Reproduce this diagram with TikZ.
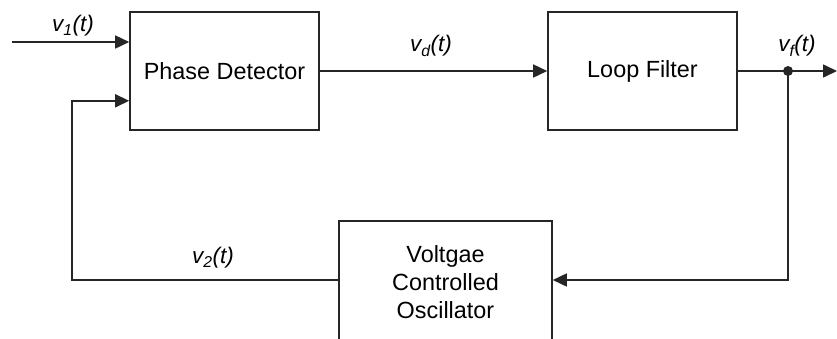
\documentclass[tikz,border=0pt]{standalone}
\usepackage{fontspec}
\setmainfont{Liberation Sans}
\usetikzlibrary{arrows.meta,calc}
\begin{document}
\begin{tikzpicture}[x=1pt,y=-1pt,
  line width=1.6pt,
  blk/.style={draw=black!85, line width=1.6pt, minimum width=189pt, minimum height=118pt, inner sep=0pt, align=center, font=\fontsize{23.4}{28}\selectfont},
  lbl/.style={font=\fontsize{22.5}{26}\selectfont\itshape, inner sep=0pt},
  arr/.style={draw=black!85, -{Triangle[length=14pt,width=13pt]}},
  ln/.style={draw=black!85}]
\useasboundingbox (0,0) rectangle (837,338);
\clip (0,0) rectangle (837,338);
\node[blk] (PD) at (224.5,71) {Phase Detector};
\node[blk] (LF) at (642.5,71) {Loop Filter};
\node[blk, minimum width=213pt, minimum height=122pt] (VCO) at (445.5,282) {Voltgae\\Controlled\\Oscillator};
\coordinate (in) at (12,42);
\coordinate (pdin1) at (PD.west |- in);
\coordinate (pdin2) at ($(PD.south west)+(0,-30)$);
\coordinate (lc) at (72,280);
\coordinate (vcol) at (VCO.west |- lc);
\coordinate (vcor) at (VCO.east |- lc);
\coordinate (dot) at (788,71);
\coordinate (out) at (837,71);
\coordinate (rc) at (788,280);
\draw[arr] (in) -- (pdin1);
\draw[arr] (vcol) -- (lc) |- (pdin2);
\draw[arr] (PD.east) -- (LF.west);
\draw[ln] (LF.east) -- (dot);
\draw[arr] (dot) -- (out);
\draw[arr] (dot) -- (rc) -- (vcor);
\fill[black!85] (dot) circle (5pt);
\node[lbl] (l1) at (73,26) {v\textsubscript{1}(t)};
\node[lbl] (ld) at (431,46) {v\textsubscript{d}(t)};
\node[lbl] (lf) at (797,46) {v\textsubscript{f}(t)};
\node[lbl] (l2) at (213,258) {v\textsubscript{2}(t)};
\end{tikzpicture}
\end{document}
